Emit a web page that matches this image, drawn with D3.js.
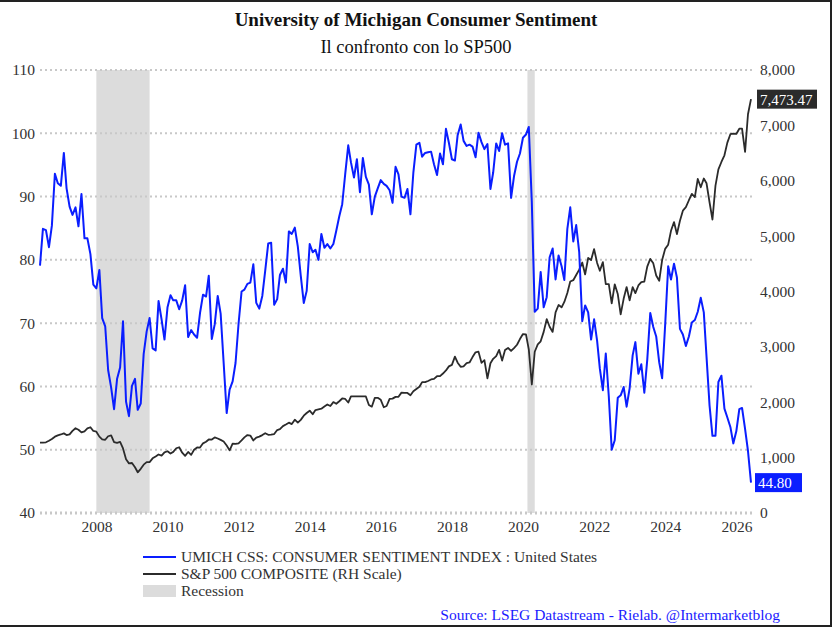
<!DOCTYPE html>
<html>
<head>
<meta charset="utf-8">
<script src="https://cdn.jsdelivr.net/npm/d3@7"></script>
<style>
  body { margin: 0; background: #fff; }
  svg { display: block; font-family: "Liberation Serif", "DejaVu Serif", serif; }
</style>
</head>
<body>
<div class="canvas"></div>
<script>
// monthly data, May 2006 -> May 2026 (plotted at month end)
const startMonth = new Date(2006, 4, 1);

const umich = [
  79.1, 84.9, 84.7, 82.0, 85.4, 93.6, 92.1, 91.7,                     // 2006
  96.9, 91.3, 88.4, 87.1, 88.3, 85.3, 90.4, 83.4, 83.4, 80.9, 76.1, 75.5, // 2007
  78.4, 70.8, 69.5, 62.6, 59.8, 56.4, 61.2, 63.0, 70.3, 57.6, 55.3, 60.1, // 2008
  61.2, 56.3, 57.3, 65.1, 68.7, 70.8, 66.0, 65.7, 73.5, 70.6, 67.4, 72.5, // 2009
  74.4, 73.6, 73.6, 72.2, 73.6, 76.0, 67.8, 68.9, 68.2, 67.7, 71.6, 74.5, // 2010
  74.2, 77.5, 67.5, 69.8, 74.3, 71.5, 63.7, 55.8, 59.5, 60.8, 63.7, 69.9, // 2011
  75.0, 75.3, 76.2, 76.4, 79.3, 73.2, 72.3, 74.3, 78.3, 82.6, 82.7, 72.9, // 2012
  73.8, 77.6, 78.6, 76.4, 84.5, 84.1, 85.1, 82.1, 77.5, 73.2, 75.1, 82.5, // 2013
  81.2, 81.6, 80.0, 84.1, 81.9, 82.5, 81.8, 82.5, 84.6, 86.9, 88.8, 93.6, // 2014
  98.1, 95.4, 93.0, 95.9, 90.7, 96.1, 93.1, 91.9, 87.2, 90.0, 91.3, 92.6, // 2015
  92.0, 91.7, 91.0, 89.0, 94.7, 93.5, 90.0, 89.8, 91.2, 87.2, 93.8, 98.2, // 2016
  98.5, 96.3, 96.9, 97.0, 97.1, 95.1, 93.4, 96.8, 95.1, 100.7, 98.5, 95.9, // 2017
  95.7, 99.7, 101.4, 98.8, 98.0, 98.2, 97.9, 96.2, 100.1, 98.6, 97.5, 98.3, // 2018
  91.2, 93.8, 98.4, 97.2, 100.0, 98.2, 98.4, 89.8, 93.2, 95.5, 96.8, 99.3, // 2019
  99.8, 101.0, 89.1, 71.8, 72.3, 78.1, 72.5, 74.1, 80.4, 81.8, 76.9, 80.7, // 2020
  79.0, 76.8, 84.9, 88.3, 82.9, 85.5, 81.2, 70.3, 72.8, 71.7, 67.4, 70.6, // 2021
  67.2, 62.8, 59.4, 65.2, 58.4, 50.0, 51.5, 58.2, 58.6, 59.9, 56.8, 59.7, // 2022
  64.9, 67.0, 62.0, 63.5, 59.0, 64.2, 71.6, 69.4, 67.9, 63.8, 61.3, 69.7, // 2023
  79.0, 76.9, 79.4, 77.2, 69.1, 68.2, 66.4, 67.9, 70.1, 70.5, 71.8, 74.0, // 2024
  71.7, 64.7, 57.0, 52.2, 52.2, 60.7, 61.7, 56.5, 55.1, 53.6, 51.0, 52.9, // 2025
  56.4, 56.6, 53.3, 49.8, 44.8                                         // 2026
];

const spx = [
  1270, 1270, 1277, 1304, 1336, 1378, 1401, 1418,
  1438, 1407, 1421, 1482, 1531, 1503, 1455, 1474, 1527, 1549, 1481, 1468,
  1379, 1331, 1323, 1386, 1400, 1280, 1267, 1283, 1165, 969, 896, 903,
  826, 735, 798, 873, 919, 919, 987, 1021, 1057, 1036, 1096, 1115,
  1074, 1104, 1169, 1187, 1089, 1031, 1102, 1049, 1141, 1183, 1181, 1258,
  1286, 1327, 1326, 1364, 1345, 1321, 1292, 1219, 1131, 1253, 1247, 1258,
  1312, 1366, 1408, 1398, 1310, 1362, 1379, 1407, 1441, 1412, 1416, 1426,
  1498, 1515, 1569, 1598, 1631, 1606, 1686, 1633, 1682, 1757, 1806, 1848,
  1783, 1859, 1872, 1884, 1924, 1960, 1931, 2003, 1972, 2018, 2068, 2059,
  1995, 2105, 2105, 2105, 2105, 2105, 2105, 1950, 1920, 2079, 2080, 2044,
  1910, 1932, 2060, 2065, 2097, 2099, 2174, 2171, 2168, 2126, 2199, 2239,
  2279, 2364, 2363, 2384, 2412, 2423, 2470, 2472, 2519, 2575, 2648, 2674,
  2824, 2714, 2641, 2648, 2705, 2718, 2816, 2902, 2914, 2712, 2760, 2430,
  2704, 2784, 2834, 2946, 2752, 2942, 2980, 2926, 2977, 3038, 3141, 3231,
  3226, 2954, 2320, 2912, 3044, 3100, 3271, 3500, 3363, 3270, 3622, 3756,
  3714, 3811, 3973, 4181, 4204, 4298, 4395, 4523, 4308, 4605, 4567, 4766,
  4516, 4374, 4530, 4132, 4132, 3785, 4130, 3955, 3586, 3872, 4080, 3840,
  4077, 3970, 4109, 4169, 4180, 4450, 4589, 4508, 4288, 4194, 4568, 4770,
  4846, 5096, 5254, 5036, 5278, 5460, 5522, 5648, 5762, 5705, 6032, 5882,
  6041, 5955, 5612, 5300, 5912, 6205, 6339, 6460, 6688, 6840, 6849, 6845,
  6940, 6940, 6520, 7200, 7473.47
];

const recessions = [
  ['2007-12-31', '2009-06-30'],
  ['2020-02-15', '2020-04-30']
];

const leftTicks = [40, 50, 60, 70, 80, 90, 100, 110];
const rightTicks = [0, 1000, 2000, 3000, 4000, 5000, 6000, 7000, 8000];
const yearTicks = [2008, 2010, 2012, 2014, 2016, 2018, 2020, 2022, 2024, 2026];

const legendItems = [
  { label: 'UMICH CSS: CONSUMER SENTIMENT INDEX : United States', type: 'line', color: '#0a1eff' },
  { label: 'S&P 500 COMPOSITE (RH Scale)', type: 'line', color: '#2b2b2b' },
  { label: 'Recession', type: 'box', color: '#dcdcdc' }
];

const dims = { width: 832, height: 627 };
const plot = { left: 40, right: 755, top: 70, bottom: 513 };

// month-end date for index i
const monthEnd = i => d3.timeDay.offset(d3.timeMonth.offset(startMonth, i + 1), -1);

const svg = d3.select('.canvas')
  .append('svg')
  .attr('width', dims.width)
  .attr('height', dims.height);

// frame (top, right, bottom)
svg.append('path')
  .attr('d', `M0,1H${dims.width - 1}V${dims.height - 1}H0`)
  .attr('fill', 'none')
  .attr('stroke', '#222')
  .attr('stroke-width', 2);

const x = d3.scaleTime()
  .domain([new Date(2006, 4, 31), new Date(2026, 4, 31)])
  .range([plot.left, 751]);

const yL = d3.scaleLinear().domain([40, 110]).range([plot.bottom, plot.top]);
const yR = d3.scaleLinear().domain([0, 8000]).range([plot.bottom, plot.top]);

// recession bands
svg.append('g')
  .selectAll('rect')
  .data(recessions)
  .enter().append('rect')
    .attr('x', d => x(new Date(d[0])))
    .attr('width', d => x(new Date(d[1])) - x(new Date(d[0])))
    .attr('y', plot.top)
    .attr('height', plot.bottom - plot.top)
    .attr('fill', '#dcdcdc');

// grid
svg.append('g')
  .selectAll('line')
  .data(leftTicks)
  .enter().append('line')
    .attr('x1', plot.left).attr('x2', plot.right)
    .attr('y1', d => yL(d)).attr('y2', d => yL(d))
    .attr('stroke', '#c8c8c8')
    .attr('stroke-width', d => d === 40 ? 3 : 2)
    .attr('stroke-dasharray', '2,3');

// left axis
const leftAxis = d3.axisLeft(yL).tickValues(leftTicks).tickSize(0).tickPadding(5);
const gL = svg.append('g').attr('transform', `translate(${plot.left},0)`).call(leftAxis);

// right axis
const rightAxis = d3.axisRight(yR).tickValues(rightTicks).tickSize(0).tickPadding(5)
  .tickFormat(d3.format(','));
const gR = svg.append('g').attr('transform', `translate(${plot.right},0)`).call(rightAxis);

// bottom axis
const xAxis = d3.axisBottom(x)
  .tickValues(yearTicks.map(yr => new Date(yr, 0, 1)))
  .tickSize(0).tickPadding(8)
  .tickFormat(d3.timeFormat('%Y'));
const gX = svg.append('g').attr('transform', `translate(0,${plot.bottom})`).call(xAxis);

[gL, gR, gX].forEach(g => {
  g.select('.domain').remove();
  g.selectAll('text')
    .attr('font-family', '"Liberation Serif", serif')
    .attr('font-size', 15.5)
    .attr('fill', '#333');
});

// lines
const lineL = d3.line().x((d, i) => x(monthEnd(i))).y(d => yL(d));
const lineR = d3.line().x((d, i) => x(monthEnd(i))).y(d => yR(d));

svg.append('path')
  .datum(spx)
  .attr('d', lineR)
  .attr('fill', 'none')
  .attr('stroke', '#2b2b2b')
  .attr('stroke-width', 1.8)
  .attr('stroke-linejoin', 'round');

svg.append('path')
  .datum(umich)
  .attr('d', lineL)
  .attr('fill', 'none')
  .attr('stroke', '#0a1eff')
  .attr('stroke-width', 2)
  .attr('stroke-linejoin', 'round');

// last value labels
const lastSpx = spx[spx.length - 1];
const lastUm = umich[umich.length - 1];
const tags = [
  { text: d3.format(',.2f')(lastSpx), y: yR(lastSpx), fill: '#2b2b2b', x: 757, w: 60 },
  { text: d3.format('.2f')(lastUm), y: yL(lastUm), fill: '#0a1eff', x: 755, w: 47 }
];
tags.forEach(t => {
  svg.append('rect')
    .attr('x', t.x).attr('y', t.y - 9.5)
    .attr('width', t.w).attr('height', 19)
    .attr('fill', t.fill);
  svg.append('text')
    .attr('x', t.x + 3).attr('y', t.y + 5.5)
    .attr('font-size', 15)
    .attr('fill', '#fff')
    .text(t.text);
});

// titles
svg.append('text')
  .attr('x', 416).attr('y', 26)
  .attr('text-anchor', 'middle')
  .attr('font-size', 19)
  .attr('font-weight', 'bold')
  .attr('fill', '#111')
  .text('University of Michigan Consumer Sentiment');

svg.append('text')
  .attr('x', 416).attr('y', 53)
  .attr('text-anchor', 'middle')
  .attr('font-size', 18.5)
  .attr('fill', '#111')
  .text('Il confronto con lo SP500');

// legend
const legend = svg.append('g').attr('transform', 'translate(143, 557)');
legendItems.forEach((item, i) => {
  const g = legend.append('g').attr('transform', `translate(0, ${i * 17})`);
  if (item.type === 'line') {
    g.append('line').attr('x1', 0).attr('x2', 33).attr('y1', 0).attr('y2', 0)
      .attr('stroke', item.color).attr('stroke-width', 2);
  } else {
    g.append('rect').attr('x', 0).attr('y', -6).attr('width', 33).attr('height', 12)
      .attr('fill', item.color);
  }
  g.append('text').attr('x', 38).attr('y', 5)
    .attr('font-size', 15.5).attr('fill', '#333')
    .text(item.label);
});

svg.append('text')
  .attr('x', 780).attr('y', 620)
  .attr('text-anchor', 'end')
  .attr('font-size', 15.5)
  .attr('fill', '#1a1aff')
  .text('Source: LSEG Datastream - Rielab. @Intermarketblog');
</script>
</body>
</html>
